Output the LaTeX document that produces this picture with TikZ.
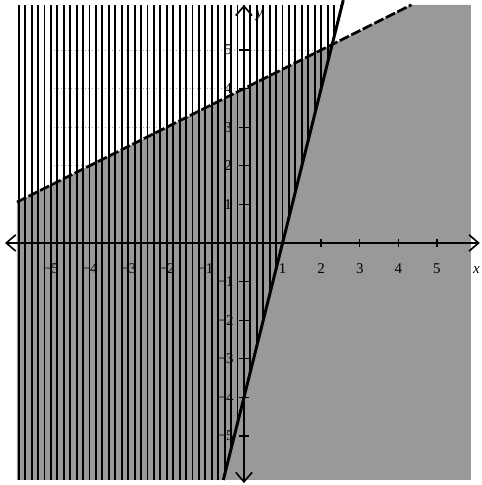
\documentclass[tikz,border=0pt]{standalone}
\usepackage{fontspec}
\setmainfont{Liberation Serif}
\usetikzlibrary{arrows.meta}
\begin{document}
\begin{tikzpicture}[x=1cm,y=1cm,font=\fontsize{11}{13}\selectfont,
  axisline/.style={line width=1pt,{Straight Barb[length=7pt,width=12pt,line width=1.2pt]}-{Straight Barb[length=7pt,width=12pt,line width=1.2pt]}},
  tickmark/.style={line width=1pt},
  hatchline/.style={line width=1.4pt},
  gridline/.style={gray!70,dotted,line width=0.5pt},
  solidbound/.style={line width=2.2pt},
  dashbound/.style={line width=2pt,dash pattern=on 7.5pt off 2pt},
  ticklabel/.style={inner sep=0pt}]
\useasboundingbox (-6.32,-6.27) rectangle (6.166,6.295);
\def\L{-5.88}\def\R{5.88}\def\B{-6.14}\def\T{6.17}
% grid
\draw[gridline] (-5,-5) grid (5,5);
% region y < x/2 + 4
\fill[black!40] (\L,\B) -- (\R,\B) -- (\R,\T) -- (4.34,\T) -- (\L,1.06) -- cycle;
% region y >= 4x - 4 (vertical lines)
\begin{scope}
  \clip (\L,\B) -- (-0.535,\B) -- (2.5425,\T) -- (\L,\T) -- cycle;
  \foreach \i in {-36,...,16} \draw[hatchline] (\i/6,\B) -- (\i/6,\T);
\end{scope}
% axes
\coordinate (xl) at (-6.19,0); \coordinate (xr) at (6.11,0);
\coordinate (yb) at (0,-6.22); \coordinate (yt) at (0,6.17);
\draw[axisline] (xl) -- (xr);
\draw[axisline] (yb) -- (yt);
\foreach \k in {-5,...,-1,1,2,...,5} {
  \draw[tickmark] (\k,-0.11) -- (\k,0.11);
  \draw[tickmark] (-0.12,\k) -- (0.12,\k);
}
\foreach \k in {1,...,5} {
  \node[ticklabel] (xlab\k) at (\k,-0.66) {\k};
  \node[ticklabel] (xlabm\k) at (-\k,-0.66) {−\k};
  \node[ticklabel] (ylab\k) at (-0.41,\k) {\k};
  \node[ticklabel,anchor=east] (ylabm\k) at (-0.26,-\k) {−\k};
}
\node[ticklabel] (xname) at (6.02,-0.7) {\itshape x};
\node[ticklabel] (yname) at (0.4,5.9) {\itshape y};
% boundary lines
\coordinate (s1) at (-0.535,\B); \coordinate (s2) at (2.5725,6.29);
\draw[solidbound] (s1) -- (s2);
\coordinate (d1) at (\L,1.06); \coordinate (d2) at (4.34,\T);
\draw[dashbound] (d1) -- (d2);
\end{tikzpicture}
\end{document}
